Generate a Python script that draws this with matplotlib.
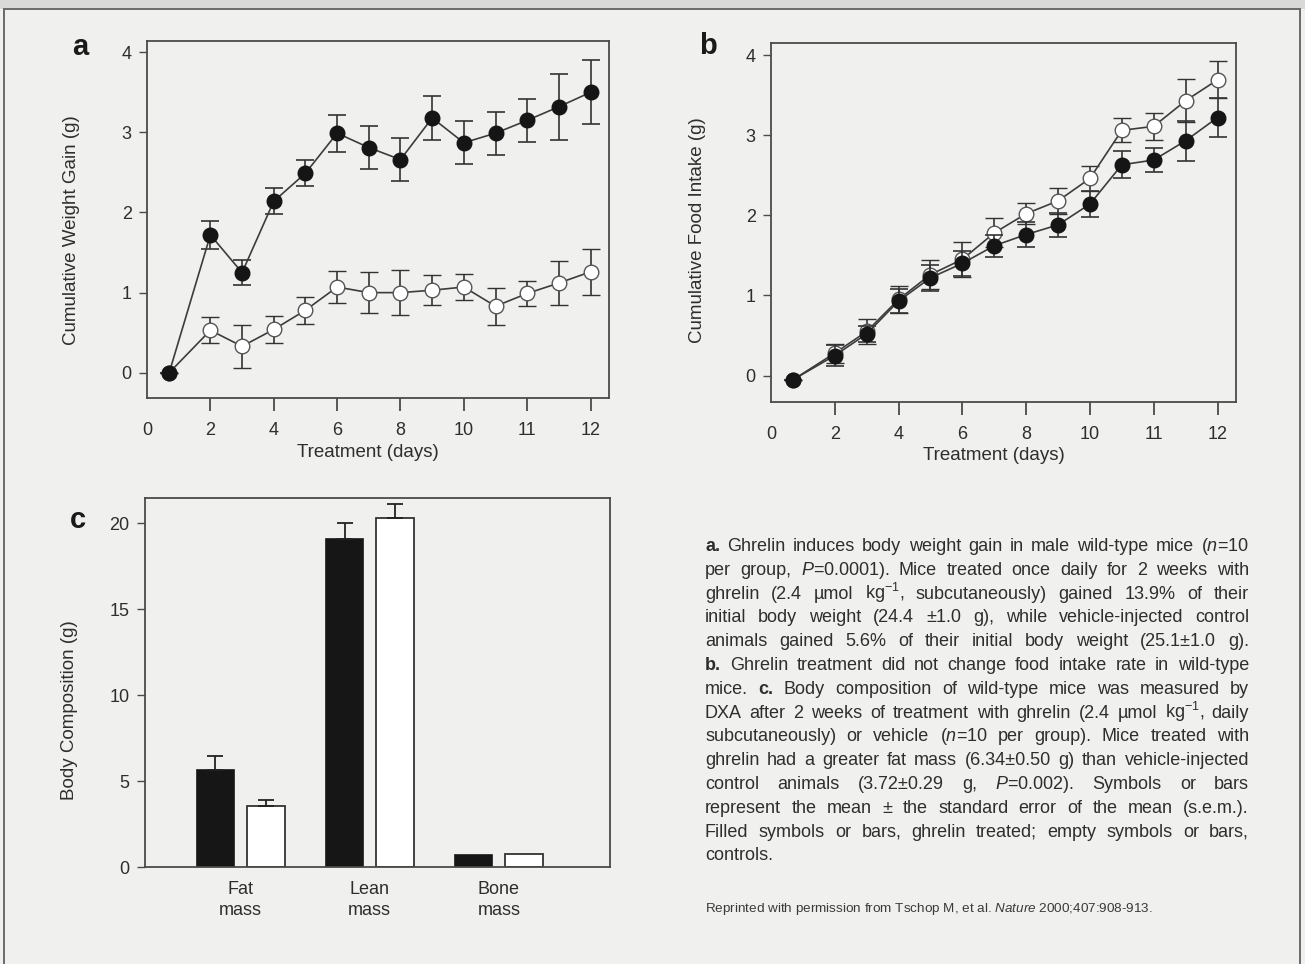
import matplotlib.pyplot as plt
from matplotlib.lines import Line2D
from matplotlib.patches import Rectangle
import numpy as np

plt.rcParams['font.family'] = ['Liberation Sans', 'DejaVu Sans']
plt.rcParams['mathtext.fontset'] = 'custom'
plt.rcParams['mathtext.rm'] = 'Liberation Sans'
plt.rcParams['mathtext.it'] = 'Liberation Sans:italic'
plt.rcParams['mathtext.bf'] = 'Liberation Sans:bold'

BG = "#f0f0ee"
INK = "#2e2e2e"
FRAME = "#4a4a4a"
LINE = "#3c3c3c"

# ── Data ──────────────────────────────────────────────────────────────────────
# x axis is a "broken" day axis: evenly spaced ticks labelled 0,2,4,...,10,11,12
day_ticks = [0, 1, 2, 3, 4, 5, 6, 7]
day_labels = ["0", "2", "4", "6", "8", "10", "11", "12"]
x_days = [0.35, 1, 1.5, 2, 2.5, 3, 3.5, 4, 4.5, 5, 5.5, 6, 6.5, 7]

gain_ghrelin     = [0, 1.72, 1.25, 2.14, 2.49, 2.99, 2.81, 2.66, 3.18, 2.87, 2.99, 3.15, 3.32, 3.50]
gain_ghrelin_sem = [0, 0.17, 0.16, 0.16, 0.16, 0.23, 0.27, 0.27, 0.27, 0.27, 0.27, 0.27, 0.41, 0.40]
gain_vehicle     = [0, 0.53, 0.33, 0.54, 0.78, 1.07, 1.00, 1.00, 1.03, 1.07, 0.83, 0.99, 1.12, 1.26]
gain_vehicle_sem = [0, 0.16, 0.27, 0.17, 0.17, 0.20, 0.26, 0.28, 0.19, 0.16, 0.23, 0.16, 0.27, 0.29]

food_ghrelin     = [-0.05, 0.25, 0.52, 0.93, 1.22, 1.40, 1.62, 1.76, 1.88, 2.14, 2.63, 2.69, 2.93, 3.22]
food_ghrelin_sem = [0, 0.13, 0.10, 0.15, 0.16, 0.16, 0.14, 0.16, 0.15, 0.16, 0.17, 0.15, 0.25, 0.24]
food_vehicle     = [-0.05, 0.28, 0.55, 0.95, 1.26, 1.45, 1.78, 2.02, 2.18, 2.46, 3.06, 3.11, 3.43, 3.69]
food_vehicle_sem = [0, 0.12, 0.15, 0.17, 0.18, 0.22, 0.18, 0.13, 0.16, 0.16, 0.15, 0.17, 0.27, 0.23]

comp_labels      = ["Fat\nmass", "Lean\nmass", "Bone\nmass"]
comp_ghrelin     = [5.62, 19.08, 0.72]
comp_ghrelin_sem = [0.82, 0.90, 0.0]
comp_vehicle     = [3.55, 20.30, 0.74]
comp_vehicle_sem = [0.35, 0.80, 0.0]

caption = [
    "**a.** Ghrelin induces body weight gain in male wild-type mice ($n$=10",
    "per group, $P$=0.0001).  Mice treated once daily for 2 weeks with",
    "ghrelin (2.4 µmol kg$^{-1}$, subcutaneously) gained 13.9% of their",
    "initial body weight (24.4 ±1.0 g), while vehicle-injected control",
    "animals gained 5.6% of their initial body weight (25.1±1.0 g).",
    "**b.** Ghrelin treatment did not change food intake rate in wild-type",
    "mice. **c.** Body composition of wild-type mice was measured by",
    "DXA after 2 weeks of treatment with ghrelin (2.4 µmol kg$^{-1}$, daily",
    "subcutaneously) or vehicle ($n$=10 per group).  Mice treated with",
    "ghrelin had a greater fat mass (6.34±0.50 g) than vehicle-injected",
    "control animals (3.72±0.29 g, $P$=0.002).   Symbols or bars",
    "represent the mean ± the standard error of the mean (s.e.m.).",
    "Filled symbols or bars, ghrelin treated; empty symbols or bars,",
    "controls.",
]
credit = "Reprinted with permission from Tschop M, et al. $Nature$ 2000;407:908-913."

W, H = 1305, 964
fig = plt.figure(figsize=(W / 100, H / 100), dpi=100)
fig.patch.set_facecolor(BG)

TICK_FS = 13
LABEL_FS = 13.5


def px_axes(left, top, right, bottom):
    return fig.add_axes([left / W, 1 - bottom / H, (right - left) / W, (bottom - top) / H])


def frame(ax):
    ax.set_facecolor("none")
    for s in ax.spines.values():
        s.set_color(FRAME)
        s.set_linewidth(1.3)


def time_panel(ax, ghr, ghr_sem, veh, veh_sem, ylabel, ylim, ylab_xy, xlab_xy):
    frame(ax)
    ax.errorbar(x_days, veh, yerr=veh_sem, fmt="-o", color=LINE, lw=1.2,
                mfc="white", mec="#555555", mew=1.0, ms=10.5,
                ecolor="#333333", elinewidth=1.2, capsize=6.5, capthick=1.2, zorder=3)
    ax.errorbar(x_days, ghr, yerr=ghr_sem, fmt="-o", color=LINE, lw=1.2,
                mfc="#151515", mec="#151515", ms=10.5,
                ecolor="#333333", elinewidth=1.2, capsize=6.5, capthick=1.2, zorder=4)
    ax.set_xlim(0, 7.29)
    ax.set_ylim(*ylim)
    ax.set_xticks(day_ticks)
    ax.set_xticklabels(day_labels)
    ax.set_yticks([0, 1, 2, 3, 4])
    ax.tick_params(axis="x", direction="out", length=9, width=1.3, color=FRAME,
                   pad=8, labelsize=TICK_FS, labelcolor=INK)
    ax.tick_params(axis="y", direction="out", length=6, width=1.0, color=FRAME,
                   pad=5, labelsize=TICK_FS, labelcolor=INK)
    ax.xaxis.get_major_ticks()[0].tick1line.set_visible(False)
    ax.set_ylabel(ylabel, fontsize=LABEL_FS, color=INK)
    ax.set_xlabel("Treatment (days)", fontsize=LABEL_FS, color=INK)
    ax.yaxis.set_label_coords(*ylab_xy)
    ax.xaxis.set_label_coords(*xlab_xy)


# ── Panel a ──────────────────────────────────────────────────────────────────
ax_a = px_axes(147, 41, 609, 398)
time_panel(ax_a, gain_ghrelin, gain_ghrelin_sem, gain_vehicle, gain_vehicle_sem,
           "Cumulative Weight Gain (g)", (-0.315, 4.14), (-0.145, 0.47), (0.478, -0.13))

# ── Panel b ──────────────────────────────────────────────────────────────────
ax_b = px_axes(771, 43, 1236, 402)
time_panel(ax_b, food_ghrelin, food_ghrelin_sem, food_vehicle, food_vehicle_sem,
           "Cumulative Food Intake (g)", (-0.33, 4.15), (-0.14, 0.48), (0.48, -0.125))

# ── Panel c ──────────────────────────────────────────────────────────────────
ax_c = px_axes(145, 498, 610, 867)
frame(ax_c)
xc = np.arange(len(comp_labels))
off, bw = 0.195, 0.29
ax_c.bar(xc - off, comp_ghrelin, bw, color="#161616", edgecolor="#161616", lw=1.2, zorder=2)
ax_c.bar(xc + off, comp_vehicle, bw, color="white", edgecolor="#333333", lw=1.3, zorder=2)
g_sem = np.array(comp_ghrelin_sem)
v_sem = np.array(comp_vehicle_sem)
mg, mv = g_sem > 0, v_sem > 0
ax_c.errorbar((xc - off)[mg], np.array(comp_ghrelin)[mg], yerr=[np.zeros(mg.sum()), g_sem[mg]],
              fmt="none", ecolor="#222222", elinewidth=1.3, capsize=5.5, capthick=1.3, zorder=3)
ax_c.errorbar((xc + off)[mv], np.array(comp_vehicle)[mv], yerr=[np.zeros(mv.sum()), v_sem[mv]],
              fmt="none", ecolor="#222222", elinewidth=1.3, capsize=5.5, capthick=1.3, zorder=3)
ax_c.set_xlim(-0.74, 2.86)
ax_c.set_ylim(0, 21.46)
ax_c.set_yticks([0, 5, 10, 15, 20])
ax_c.set_xticks(xc)
ax_c.set_xticklabels(comp_labels, linespacing=1.3)
ax_c.tick_params(axis="x", length=0, pad=10, labelsize=TICK_FS, labelcolor=INK)
ax_c.tick_params(axis="y", direction="out", length=6, width=1.0, color=FRAME,
                 pad=5, labelsize=TICK_FS, labelcolor=INK)
ax_c.set_ylabel("Body Composition (g)", fontsize=LABEL_FS, color=INK)
ax_c.yaxis.set_label_coords(-0.144, 0.425)

# panel letters
for s, x, y in [("a", 80, 47), ("b", 708, 46), ("c", 78, 520)]:
    fig.text(x / W, 1 - y / H, s, fontsize=21, fontweight="bold", color="#1a1a1a",
             ha="center", va="center")

# ── Caption (justified, word by word) ───────────────────────────────────────
renderer = fig.canvas.get_renderer()
X0, X1 = 705, 1249
Y0, DY = 551, 23.8


def make_words(line, size, y):
    arts = []
    for w in line.split():
        bold = w.startswith("**")
        s = w.strip("*") if bold else w
        arts.append(fig.text(0, 1 - y / H, s, fontsize=size, color=INK,
                             fontweight="bold" if bold else "normal",
                             ha="left", va="baseline"))
    return arts


def natural_width(size):
    worst = 0
    for line in caption:
        arts = make_words(line, size, 0)
        ws = sum(a.get_window_extent(renderer).width for a in arts)
        worst = max(worst, ws + 0.22 * size * (len(arts) - 1))
        for a in arts:
            a.remove()
    return worst


size = 13.0
while natural_width(size) > (X1 - X0) and size > 8:
    size -= 0.25

space = 0.28 * size * 100 / 72
for i, line in enumerate(caption):
    y = Y0 + i * DY
    arts = make_words(line, size, y)
    widths = [a.get_window_extent(renderer).width for a in arts]
    if i == len(caption) - 1 or len(arts) == 1:
        gap = space
    else:
        gap = (X1 - X0 - sum(widths)) / (len(arts) - 1)
    x = X0
    for a, w in zip(arts, widths):
        a.set_x(x / W)
        x += w + gap

t = fig.text(X0 / W, 1 - 912 / H, credit, fontsize=9, color="#3a3a3a", ha="left", va="baseline")
cw = t.get_window_extent(renderer).width
t.set_fontsize(9 * 448 / cw)

# ── Page edges of the scan ──────────────────────────────────────────────────
fig.add_artist(Rectangle((0, 1 - 9 / H), 1, 9 / H, transform=fig.transFigure,
                         facecolor="#d9d9d7", edgecolor="none", zorder=0))
edge = dict(transform=fig.transFigure, color="#6a6a6a", lw=1.4)
fig.add_artist(Line2D([4 / W, 4 / W], [0, 1 - 9 / H], **edge))
fig.add_artist(Line2D([4 / W, 1300 / W], [1 - 9 / H, 1 - 9 / H], **edge))
fig.add_artist(Line2D([1300 / W, 1300 / W], [0, 1 - 9 / H], **edge))

fig.savefig("out.png", dpi=100, facecolor=BG)
